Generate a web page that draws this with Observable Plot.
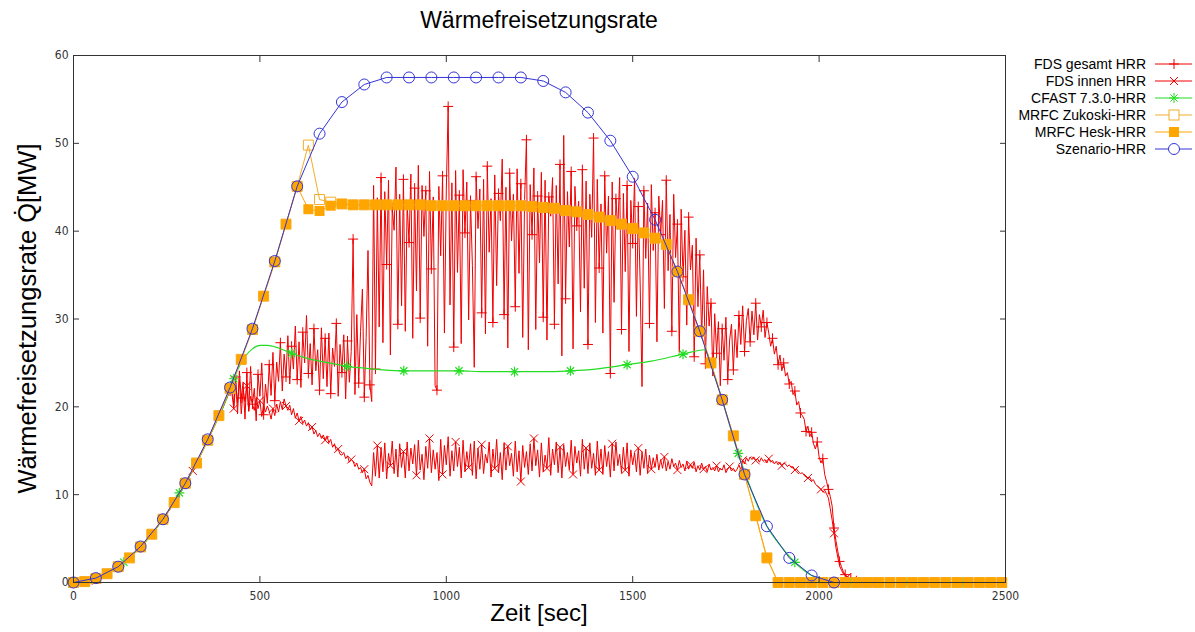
<!DOCTYPE html>
<html><head><meta charset="utf-8">
<script src="https://cdn.jsdelivr.net/npm/d3@7"></script>
<script src="https://cdn.jsdelivr.net/npm/@observablehq/plot@0.6"></script>
<style>
html,body{margin:0;padding:0;background:#fff;}
#wrap{position:relative;width:1195px;height:632px;overflow:hidden;font-family:"Liberation Sans",Arial,sans-serif;}
#chart{position:absolute;left:0;top:40px;}
#overlay{position:absolute;left:0;top:0;pointer-events:none;}
</style></head><body>
<div id="wrap"><div id="chart"></div><svg id="overlay" width="1195" height="632"></svg></div>
<script>
// ---------- texts ----------
const titleText = "Wärmefreisetzungsrate";
const xLabel = "Zeit [sec]";
const yLabel = "Wärmefreisetzungsrate Q\u0307[MW]";
const xTicks = [0, 500, 1000, 1500, 2000, 2500];
const yTicks = [0, 10, 20, 30, 40, 50, 60];

// ---------- Szenario-HRR ----------
const szenT = [0,60,120,180,240,300,360,420,480,540,600,660,720,780,840,900,960,1020,1080,1140,1200,1260,1320,1380,1440,1500,1560,1620,1680,1740,1800,1860,1920,1980,2040];
const szenQ = [0,0.5,1.8,4.1,7.2,11.3,16.3,22.2,28.9,36.6,45.1,51.1,54.7,56.7,57.5,57.5,57.5,57.5,57.5,57.5,57.5,57.1,55.8,53.5,50.3,46.2,41.3,35.4,28.6,20.8,12.3,6.4,2.8,0.8,0];

// ---------- MRFC (30 s grid) ----------
const mrfcStep = 30;
const heskQ = [0,0.1,0.45,1.0,1.8,2.8,4.05,5.5,7.2,9.1,
  11.3,13.6,16.2,19.0,22.1,25.4,28.8,32.6,36.5,40.8,
  45.1,42.5,42.3,42.9,43.1,43.0,43.0,43.0,43.0,43.0,
  43.0,43.0,42.9,42.9,42.9,42.9,42.9,42.9,42.9,42.9,
  42.9,42.8,42.7,42.6,42.35,42.2,41.9,41.6,41.2,40.8,
  40.3,39.8,39.2,38.5,35.4,32.2,28.6,25.0,20.8,16.7,
  12.3,7.6,2.8,0,0,0,0,0,0,0,
  0,0,0,0,0,0,0,0,0,0,
  0,0,0,0];
const zukoskiQ = [0,0.1,0.45,1.0,1.8,2.8,4.05,5.5,7.2,9.1,
  11.3,13.6,16.2,19.0,22.1,25.4,28.8,32.6,36.5,40.8,
  45.1,49.8,43.6,43.3,43.1,43.0,43.0,43.0,43.0,43.0,
  43.0,43.0,42.9,42.9,42.9,42.9,42.9,42.9,42.9,42.9,
  42.9,42.8,42.7,42.6,42.35,42.2,41.9,41.6,41.2,40.8,
  40.3,39.8,39.2,38.5,35.4,32.2,28.6,25.0,20.8,16.7,
  12.3,7.6,2.8,0,0,0,0,0,0,0,
  0,0,0,0,0,0,0,0,0,0,
  0,0,0,0];

// ---------- CFAST 7.3.0 ----------
const cfastT = [0,60,120,135,180,240,284,300,360,420,430,440,460,480,500,520,550,585,620,660,700,734,780,830,886,950,1034,1100,1183,1250,1333,1400,1485,1550,1635,1693,1710,1740,1783,1820,1860,1900,1935,1980,2010,2040,2084,2233,2385,2500];
const cfastQ = [0,0.5,1.8,2.3,4.0,7.2,10.2,11.3,16.2,22.0,23.2,24.2,25.7,26.6,27.0,27.0,26.7,26.1,25.6,25.2,24.9,24.6,24.4,24.2,24.1,24.1,24.1,24.0,24.0,24.0,24.1,24.3,24.8,25.2,26.0,26.5,24.8,20.8,14.7,10.3,6.4,4.0,2.3,0.8,0.4,0,0,0,0,0];
const cfastMarkT = [135,284,430,585,734,886,1034,1183,1333,1485,1635,1783,1935,2084,2233,2385];

// ---------- FDS (early coarse part + 5 s noisy part) ----------
const fdsEarlyT = [0,20,40,60,80,100,120,140,160,180,200,220,240,260,280,300,320,340,360,380,400,420];
const fdsGesamtEarlyQ = [0,0.1,0.2,0.5,0.8,1.3,1.8,2.4,3.2,4.0,5.0,6.1,7.2,8.4,9.8,11.2,12.8,14.5,16.2,18.0,20.1,21.8];
const fdsInnenEarlyQ = [0,0.1,0.2,0.4,0.8,1.2,1.8,2.5,3.2,4.1,5.0,6.0,7.3,8.5,9.7,11.3,12.7,14.4,16.3,18.1,19.8,21.9];
const fdsStart = 425, fdsStep = 5;
const fdsGesamtQ = [
  22.5,20.1,23.4,19.2,24.1,21.0,22.8,18.6,23.9,19.5,
  24.6,20.3,22.1,18.4,23.7,21.2,25.0,19.1,22.6,20.4,
  24.8,21.3,26.2,20.7,25.1,22.9,27.3,21.8,26.0,23.4,
  28.1,22.6,26.9,24.3,29.2,23.1,27.4,22.2,28.5,25.0,
  30.4,23.8,27.2,22.5,28.9,24.1,26.5,21.9,29.0,23.2,
  27.8,22.3,28.4,21.5,26.7,24.6,29.5,21.2,27.1,23.9,
  28.2,20.9,27.5,22.8,26.3,39.1,21.4,30.5,22.7,28.6,
  33.4,21.1,27.9,37.8,22.5,20.6,45.2,24.3,43.8,29.1,
  46.1,27.3,44.5,36.2,45.8,25.9,42.7,40.1,47.3,29.4,
  44.2,31.5,45.9,28.6,43.1,38.7,46.5,27.8,44.9,33.2,
  47.5,30.1,45.2,39.4,44.6,26.9,46.8,35.7,43.9,22.4,
  21.9,45.1,37.2,46.3,28.4,44.7,54.2,31.6,45.5,26.8,
  46.9,35.3,44.1,27.2,47.0,39.8,45.6,29.9,43.5,36.1,
  24.5,46.2,40.3,44.8,30.7,45.9,28.3,47.4,37.6,43.7,
  29.6,46.4,33.8,44.3,41.2,48.2,30.5,45.0,26.7,46.6,
  38.9,44.2,31.4,47.1,35.2,45.4,27.9,43.6,50.4,26.5,
  45.3,39.6,47.2,28.8,44.0,36.4,46.7,30.2,45.8,27.6,
  43.9,41.7,46.1,29.4,45.2,34.0,47.6,25.8,50.9,32.3,
  44.5,38.2,46.8,26.6,45.1,40.6,43.4,30.8,47.0,33.5,
  45.7,27.1,44.2,39.3,50.6,29.6,45.9,35.8,43.1,28.4,
  46.3,37.5,44.0,23.8,45.6,31.9,43.7,40.2,46.1,28.8,
  44.3,35.4,45.2,26.3,43.5,38.6,46.0,30.3,42.8,34.1,
  22.3,44.6,36.9,43.2,29.5,45.3,37.8,42.1,27.4,44.0,
  39.6,43.5,31.2,45.8,35.5,41.9,28.6,44.2,37.0,40.8,
  26.2,42.5,34.8,40.1,29.3,41.6,35.6,38.4,25.7,39.2,
  31.4,37.3,27.8,35.6,24.9,33.7,29.2,31.8,23.5,30.6,
  26.1,29.7,22.4,28.9,25.3,30.2,23.1,27.6,29.4,24.2,
  28.8,25.6,30.4,27.1,31.5,26.3,29.8,31.2,27.4,30.9,
  28.2,31.8,27.6,30.5,29.1,31.0,27.9,29.6,28.4,26.9,
  27.8,26.0,26.9,24.8,25.9,24.1,25.0,23.5,23.9,22.6,
  22.9,21.4,21.8,20.2,20.6,19.3,19.0,18.6,17.2,17.8,
  16.6,17.1,15.8,15.2,16.0,14.3,13.6,14.1,12.3,11.5,
  10.6,9.8,8.7,6.2,4.8,3.6,2.4,1.8,1.2,0.9,
  0.7,0.6,0.5,0.4,0.3,0.2,0.1,0.1,0,0,
  0,0,0,0,0,0];
const fdsInnenQ = [
  21.5,19.8,22.7,20.4,23.1,19.2,21.9,20.6,22.4,19.5,
  21.2,20.3,19.6,21.0,19.8,20.7,18.9,20.2,19.4,20.1,
  19.5,18.6,19.8,19.0,20.3,19.4,20.6,19.7,20.9,20.1,
  19.6,20.2,19.1,19.8,18.7,19.3,18.4,18.9,18.1,18.5,
  17.8,18.2,17.4,17.7,16.9,17.3,16.6,17.0,16.4,16.8,
  16.2,16.7,15.9,16.3,15.4,15.8,15.0,15.2,14.6,14.5,
  14.8,14.1,14.4,13.7,14.0,13.8,13.2,13.6,12.9,13.1,
  12.5,12.9,11.8,12.2,11.4,11.0,14.8,12.1,15.6,11.9,
  15.4,12.6,15.9,11.8,14.7,13.3,16.1,12.4,15.2,12.0,
  15.8,13.1,14.9,11.9,16.0,12.7,15.3,13.5,15.7,12.2,
  16.2,12.8,14.6,11.7,15.5,13.0,16.4,12.5,15.1,12.9,
  14.8,11.6,16.3,12.3,15.6,13.4,16.6,12.1,15.0,12.7,
  16.0,13.2,15.4,11.9,16.2,12.6,14.9,13.1,15.8,12.2,
  16.1,11.8,15.3,12.9,15.7,12.4,14.6,13.6,16.0,12.0,
  15.2,13.0,16.3,12.5,14.8,11.7,15.9,12.8,15.5,13.3,
  14.7,12.1,16.1,12.6,15.0,11.5,15.6,13.1,14.9,12.3,
  15.8,12.7,16.4,13.3,15.1,12.0,15.9,12.6,14.5,13.0,
  16.5,12.2,15.2,13.4,16.0,12.5,15.4,11.9,15.7,13.2,
  14.8,12.8,16.2,12.3,15.5,13.6,15.0,12.1,16.3,12.9,
  15.3,12.4,15.9,13.0,14.7,12.2,16.1,12.8,15.2,12.3,
  15.6,13.2,14.9,12.0,15.8,12.7,16.0,13.3,14.6,12.5,
  15.4,12.8,15.9,12.1,15.1,13.4,14.8,12.6,15.3,12.2,
  14.9,13.0,15.2,12.4,14.5,12.9,14.2,13.1,14.6,12.8,
  14.0,13.0,14.3,12.7,13.8,12.9,14.1,13.2,13.6,12.8,
  13.9,13.1,13.5,12.7,13.8,12.9,13.4,13.0,13.7,12.6,
  13.3,12.8,13.6,12.9,13.2,12.6,13.5,12.8,13.1,12.7,
  13.3,12.6,13.0,12.8,13.4,12.5,12.9,13.2,12.7,13.0,
  12.6,12.9,13.4,12.8,13.9,13.5,14.2,13.8,14.3,14.0,
  14.3,13.9,14.1,13.7,14.2,13.8,14.0,13.6,14.1,13.7,
  13.9,13.5,13.8,13.4,13.7,13.3,13.6,13.5,13.2,13.4,
  13.1,13.2,12.8,12.9,12.6,12.4,12.5,12.2,12.0,11.9,
  12.0,11.6,11.7,11.2,11.0,10.8,10.6,10.3,10.5,10.1,
  9.6,8.4,7.1,5.6,4.0,2.9,1.9,1.4,1.0,0.8,
  0.6,0.5,0.4,0.3,0.2,0.1,0.1,0,0,0,
  0,0,0,0,0,0];

// ---------- styles ----------
const C = {
  fdsG: "#f00000", fdsI: "#f00000", cfast: "#22dd22",
  zuk: "#f2ad2a", hesk: "#ffa500", szen: "#3434d6"
};

// ---------- build tables ----------
const fdsSeries = (early, noisy) => [
  ...fdsEarlyT.map((t, i) => ({t, q: early[i]})),
  ...noisy.map((q, i) => ({t: fdsStart + i * fdsStep, q}))
];
const fdsG = fdsSeries(fdsGesamtEarlyQ, fdsGesamtQ);
const fdsI = fdsSeries(fdsInnenEarlyQ, fdsInnenQ);
const hesk = heskQ.map((q, i) => ({t: i * mrfcStep, q}));
const zuk = zukoskiQ.map((q, i) => ({t: i * mrfcStep, q}));
const cfast = cfastT.map((t, i) => ({t, q: cfastQ[i]}));
const cfastMarks = cfast.filter(d => cfastMarkT.includes(d.t));
const szen = szenT.map((t, i) => ({t, q: szenQ[i]}));

// ---------- symbols ----------
const sym = {
  plus: {draw(c, s) {const r = Math.sqrt(s / Math.PI); c.moveTo(-r, 0); c.lineTo(r, 0); c.moveTo(0, -r); c.lineTo(0, r);}},
  times: {draw(c, s) {const r = Math.sqrt(s / Math.PI) * 0.8; c.moveTo(-r, -r); c.lineTo(r, r); c.moveTo(-r, r); c.lineTo(r, -r);}},
  star: {draw(c, s) {const r = Math.sqrt(s / Math.PI), d = r * 0.72; c.moveTo(-r, 0); c.lineTo(r, 0); c.moveTo(0, -r); c.lineTo(0, r); c.moveTo(-d, -d); c.lineTo(d, d); c.moveTo(-d, d); c.lineTo(d, -d);}},
  square: {draw(c, s) {const r = Math.sqrt(s / Math.PI); c.rect(-r, -r, 2 * r, 2 * r);}}
};

const chart = Plot.plot({
  width: 1195, height: 592,
  marginTop: 15, marginBottom: 50, marginLeft: 73, marginRight: 190,
  x: {domain: [0, 2500]},
  y: {domain: [0, 60]},
  style: {fontFamily: "'DejaVu Sans Condensed','DejaVu Sans',sans-serif", fontSize: "12px", color: "#333", background: "#fff"},
  marks: [
    Plot.line(fdsG, {x: "t", y: "q", stroke: C.fdsG, strokeWidth: 1}),
    Plot.dot(fdsG.filter((d, i) => i % 3 === 0), {x: "t", y: "q", symbol: sym.plus, r: 5, stroke: C.fdsG, fill: "none", strokeWidth: 1}),
    Plot.line(fdsI, {x: "t", y: "q", stroke: C.fdsI, strokeWidth: 1}),
    Plot.dot(fdsI.filter((d, i) => i % 7 === 2), {x: "t", y: "q", symbol: sym.times, r: 5, stroke: C.fdsI, fill: "none", strokeWidth: 1}),
    Plot.line(cfast, {x: "t", y: "q", stroke: C.cfast, strokeWidth: 1.2, curve: "monotone-x"}),
    Plot.dot(cfastMarks, {x: "t", y: "q", symbol: sym.star, r: 5, stroke: C.cfast, fill: "none", strokeWidth: 1.2}),
    Plot.line(zuk, {x: "t", y: "q", stroke: C.zuk, strokeWidth: 1}),
    Plot.dot(zuk, {x: "t", y: "q", symbol: sym.square, r: 5, stroke: C.zuk, fill: "none", strokeWidth: 1}),
    Plot.line(hesk, {x: "t", y: "q", stroke: C.hesk, strokeWidth: 1}),
    Plot.dot(hesk, {x: "t", y: "q", symbol: sym.square, r: 5, fill: C.hesk, stroke: "none"}),
    Plot.line(szen, {x: "t", y: "q", stroke: C.szen, strokeWidth: 1}),
    Plot.dot(szen, {x: "t", y: "q", r: 5.5, stroke: C.szen, fill: "none", strokeWidth: 1}),
    Plot.frame({stroke: "#333", strokeWidth: 1}),
    Plot.axisX(xTicks, {anchor: "bottom", tickSize: -6, tickPadding: 15, label: null, tickFormat: d => String(d)}),
    Plot.axisX(xTicks, {anchor: "top", tickSize: -6, label: null, tickFormat: () => ""}),
    Plot.axisY(yTicks, {anchor: "left", tickSize: -6, tickPadding: 11, label: null, tickFormat: d => String(d)}),
    Plot.axisY(yTicks, {anchor: "right", tickSize: -6, label: null, tickFormat: () => ""})
  ]
});
document.getElementById("chart").appendChild(chart);

// ---------- title, axis labels, legend ----------
const ov = d3.select("#overlay");
const plotLeft = 73, plotRight = 1005, plotTop = 55, plotBottom = 582;
const cx = (plotLeft + plotRight) / 2;
ov.append("text").attr("x", cx).attr("y", 28).attr("text-anchor", "middle")
  .attr("font-size", 23).attr("font-family", "'Liberation Sans',Arial,sans-serif").text(titleText);
ov.append("text").attr("x", cx).attr("y", 621).attr("text-anchor", "middle")
  .attr("font-size", 24).attr("font-family", "'Liberation Sans',Arial,sans-serif").text(xLabel);
const ly = (plotTop + plotBottom) / 2;
ov.append("text").attr("transform", `translate(36,${ly}) rotate(-90)`).attr("text-anchor", "middle")
  .attr("font-size", 25.5).attr("font-family", "'Liberation Sans',Arial,sans-serif").text(yLabel);

const legend = [
  {label: "FDS gesamt HRR", color: C.fdsG, s: "plus"},
  {label: "FDS innen HRR", color: C.fdsI, s: "times"},
  {label: "CFAST 7.3.0-HRR", color: C.cfast, s: "star"},
  {label: "MRFC Zukoski-HRR", color: C.zuk, s: "sq"},
  {label: "MRFC Hesk-HRR", color: C.hesk, s: "sqf"},
  {label: "Szenario-HRR", color: C.szen, s: "circ"}
];
const lgX = 1146, lgY0 = 64, lgDy = 17, lineX1 = 1155, lineX2 = 1192, mX = 1174;
legend.forEach((d, i) => {
  const y = lgY0 + i * lgDy;
  ov.append("text").attr("x", lgX).attr("y", y + 5).attr("text-anchor", "end")
    .attr("font-size", 14).attr("font-family", "'Liberation Sans',Arial,sans-serif").text(d.label);
  ov.append("line").attr("x1", lineX1).attr("x2", lineX2).attr("y1", y).attr("y2", y).attr("stroke", d.color).attr("stroke-width", 1);
  const g = ov.append("g").attr("transform", `translate(${mX},${y})`);
  if (d.s === "circ") g.append("circle").attr("r", 5.5).attr("fill", "#fff").attr("stroke", d.color);
  else if (d.s === "sq") g.append("rect").attr("x", -5).attr("y", -5).attr("width", 10).attr("height", 10).attr("fill", "#fff").attr("stroke", d.color);
  else if (d.s === "sqf") g.append("rect").attr("x", -5).attr("y", -5).attr("width", 10).attr("height", 10).attr("fill", d.color);
  else {
    const p = d3.path(); sym[d.s].draw(p, Math.PI * 25);
    g.append("path").attr("d", p.toString()).attr("fill", "none").attr("stroke", d.color);
  }
});
</script>
</body></html>
